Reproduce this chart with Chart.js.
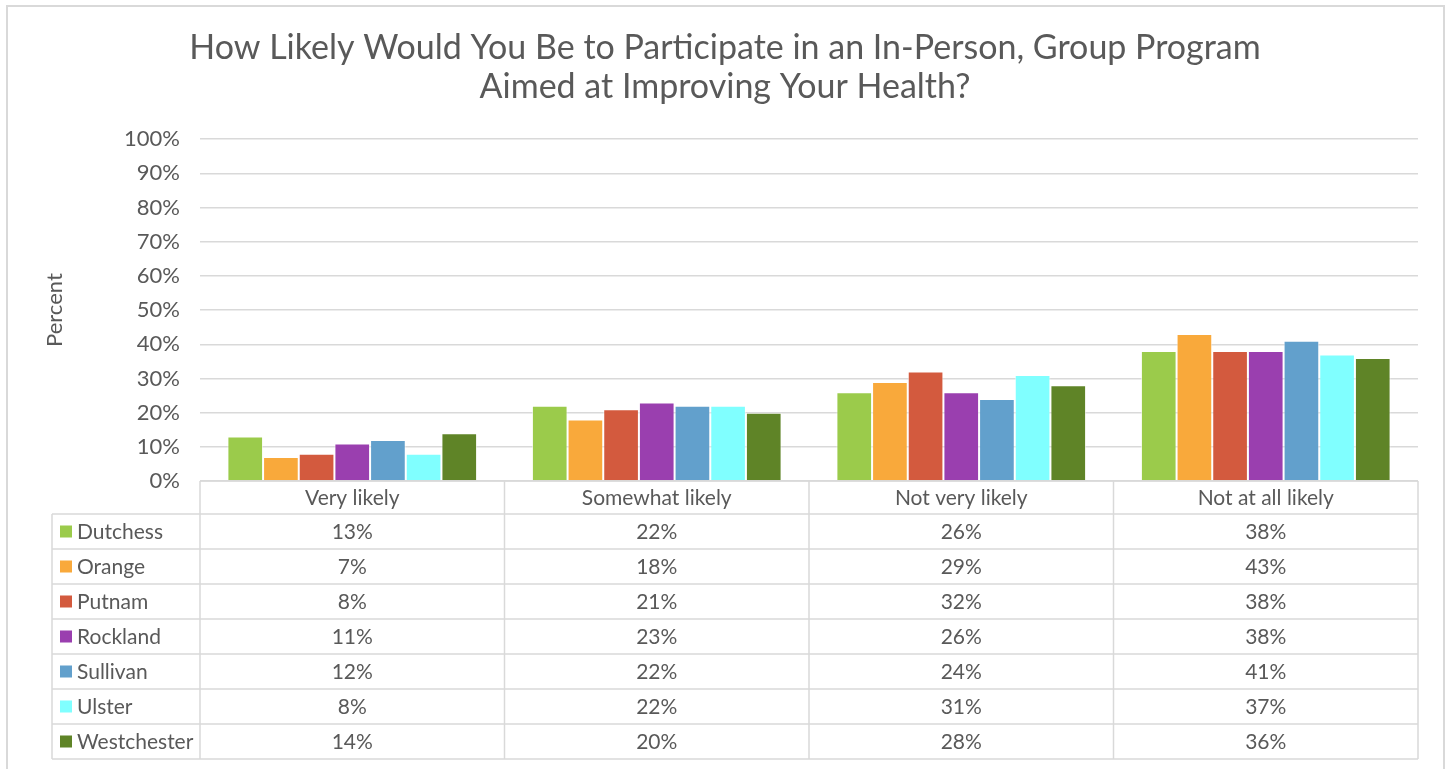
<!DOCTYPE html>
<html>
<head>
<meta charset="utf-8">
<script src="https://cdn.jsdelivr.net/npm/chart.js@4"></script>
<style>
  body { margin: 0; background: #fff; }
  #wrap { position: relative; width: 1450px; height: 769px; }
  #frame { position: absolute; left: 6px; top: 5px; width: 1435px; height: 800px; border: 2px solid #d9d9d9; }
  canvas { position: absolute; left: 0; top: 0; }
</style>
</head>
<body>
<div id="wrap">
  <div id="frame"></div>
  <canvas id="likelyChart" width="1450" height="769"></canvas>
</div>
<script>
const categories = ['Very likely', 'Somewhat likely', 'Not very likely', 'Not at all likely'];
const counties = ['Dutchess', 'Orange', 'Putnam', 'Rockland', 'Sullivan', 'Ulster', 'Westchester'];
const dutchess = [13, 22, 26, 38];
const orange = [7, 18, 29, 43];
const putnam = [8, 21, 32, 38];
const rockland = [11, 23, 26, 38];
const sullivan = [12, 22, 24, 41];
const ulster = [8, 22, 31, 37];
const westchester = [14, 20, 28, 36];
const yTicks = [0, 10, 20, 30, 40, 50, 60, 70, 80, 90, 100];

const seriesValues = [dutchess, orange, putnam, rockland, sullivan, ulster, westchester];
const colors = ['#9BCB4B', '#F9A93B', '#D35A3E', '#9A3FAF', '#62A0CC', '#80FFFF', '#5F8427'];

const textColor = '#595959';
const gridColor = '#d9d9d9';
const fontFamily = 'Lato, "DejaVu Sans", sans-serif';

// data table under the plot, drawn from the same arrays
const dataTable = {
  id: 'dataTable',
  afterDraw(chart) {
    const c = chart.ctx;
    const area = chart.chartArea;
    const x = chart.scales.x;
    const colW = (area.right - area.left) / categories.length;
    const tableLeft = 52;
    const headTop = area.bottom;
    const headH = 33;
    const rowH = 35;
    const bottom = headTop + headH + rowH * counties.length;

    c.save();
    c.strokeStyle = gridColor;
    c.lineWidth = 1.5;
    c.beginPath();
    // header row lines
    c.moveTo(area.left, headTop); c.lineTo(area.right, headTop);
    for (let i = 0; i <= categories.length; i++) {
      const xx = area.left + i * colW;
      c.moveTo(xx, headTop); c.lineTo(xx, bottom);
    }
    c.moveTo(tableLeft, headTop + headH); c.lineTo(tableLeft, bottom);
    for (let r = 0; r <= counties.length; r++) {
      const yy = headTop + headH + r * rowH;
      c.moveTo(tableLeft, yy); c.lineTo(area.right, yy);
    }
    c.stroke();

    c.font = '21px ' + fontFamily;
    c.fillStyle = textColor;
    c.textBaseline = 'middle';
    c.textAlign = 'center';
    categories.forEach((cat, i) => {
      c.fillText(cat, x.getPixelForValue(i), headTop + headH / 2 + 1);
    });

    counties.forEach((name, r) => {
      const yy = headTop + headH + r * rowH + rowH / 2 + 1;
      c.fillStyle = colors[r];
      c.fillRect(60, yy - 7, 12, 12);
      c.fillStyle = textColor;
      c.textAlign = 'left';
      c.fillText(name, 77, yy);
      c.textAlign = 'center';
      seriesValues[r].forEach((v, i) => {
        c.fillText(v + '%', x.getPixelForValue(i), yy);
      });
    });
    c.restore();
  }
};

const ctx = document.getElementById('likelyChart').getContext('2d');
new Chart(ctx, {
  type: 'bar',
  data: {
    labels: categories,
    datasets: counties.map((name, i) => ({
      label: name,
      data: seriesValues[i],
      backgroundColor: colors[i],
      borderColor: 'rgba(255,255,255,0.6)',
      borderWidth: 1,
      categoryPercentage: 0.82,
      barPercentage: 1.0
    }))
  },
  options: {
    responsive: false,
    animation: false,
    layout: { padding: { top: 0, left: 32, right: 32, bottom: 288 } },
    plugins: {
      legend: { display: false },
      tooltip: { enabled: false },
      title: {
        display: true,
        text: ['How Likely Would You Be to Participate in an In-Person, Group Program', 'Aimed at Improving Your Health?'],
        color: textColor,
        font: { family: fontFamily, size: 34, weight: 'normal', lineHeight: 1.15 },
        padding: { top: 28, bottom: 33 }
      }
    },
    scales: {
      x: {
        ticks: { display: false },
        grid: { display: false },
        border: { display: false },
        afterFit: (scale) => { scale.height = 0; }
      },
      y: {
        min: 0,
        max: 100,
        afterBuildTicks: (scale) => { scale.ticks = yTicks.map(v => ({ value: v })); },
        ticks: {
          color: textColor,
          padding: 20,
          font: { family: fontFamily, size: 22 },
          callback: (v) => v + '%'
        },
        grid: { color: gridColor, lineWidth: 1.5, drawTicks: false },
        border: { display: false },
        title: {
          display: true,
          text: 'Percent',
          color: textColor,
          font: { family: fontFamily, size: 22 },
          padding: { top: 10 }
        },
        afterFit: (scale) => { scale.width = 168; }
      }
    }
  },
  plugins: [dataTable]
});
</script>
</body>
</html>
